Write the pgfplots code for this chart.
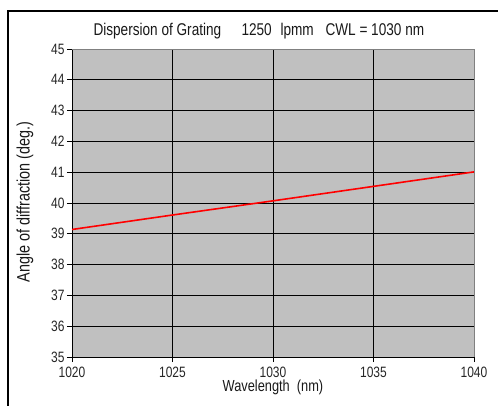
\documentclass[border=0pt]{standalone}
\usepackage{pgfplots}
\pgfplotsset{compat=1.18}
\usepackage{fontspec}
\setmainfont{Liberation Sans}
\newfontfamily\nar[FakeStretch=0.8]{Liberation Sans}
\definecolor{plotgray}{HTML}{C0C0C0}
\definecolor{bordergray}{HTML}{808080}
\begin{document}
\begin{tikzpicture}[x=1pt,y=1pt]
\useasboundingbox (0,0) rectangle (498,405);
\fill[white] (0,0) rectangle (498,405);
\draw[black, line width=1.3pt] (8,-2) -- (8,394) -- (500,394);
\begin{axis}[
  at={(72pt,48pt)}, anchor=south west,
  scale only axis, width=402pt, height=308pt,
  xmin=1020, xmax=1040, ymin=35, ymax=45,
  xtick={1020,1025,1030,1035,1040},
  ytick={35,36,37,38,39,40,41,42,43,44,45},
  /pgf/number format/1000 sep={},
  /pgf/number format/assume math mode=true,
  grid=major,
  major grid style={black, line width=0.9pt},
  axis background/.style={fill=plotgray},
  axis lines=left,
  axis line style={-, black, line width=0.9pt},
  tick style={black, line width=0.9pt},
  tick align=outside,
  major tick length=5pt,
  ticklabel style={font=\nar\fontsize{15}{15}\selectfont, text=black!85},
  yticklabel style={xshift=1pt},
  xticklabel style={yshift=-1pt},
  xlabel={Wavelength\ \ (nm)},
  ylabel={Angle of diffraction (deg.)},
  label style={font=\nar\fontsize{16}{16}\selectfont, text=black!90},
  xlabel style={at={(axis description cs:0.5,-0.098)}, anchor=center},
  ylabel style={at={(axis description cs:-0.117,0.503)}, anchor=center, rotate=0, font=\nar\fontsize{18}{18}\selectfont},
  clip=false,
]
\addplot[red, line width=1.6pt] coordinates {
  (1020,39.14) (1025,39.61) (1030,40.07) (1035,40.54) (1040,41.01)
};
\draw[bordergray, line width=0.9pt] (rel axis cs:0,1) -- (rel axis cs:1,1) -- (rel axis cs:1,0);
\end{axis}
\node[anchor=base west, font=\nar\fontsize{17}{17}\selectfont, text=black!90] at (90,369) {Dispersion of Grating};
\node[anchor=base west, font=\nar\fontsize{17}{17}\selectfont, text=black!90] at (238,369) {1250};
\node[anchor=base west, font=\nar\fontsize{17}{17}\selectfont, text=black!90] at (277,369) {lpmm};
\node[anchor=base west, font=\nar\fontsize{17}{17}\selectfont, text=black!90] at (322,369) {CWL = 1030 nm};
\end{tikzpicture}
\end{document}
